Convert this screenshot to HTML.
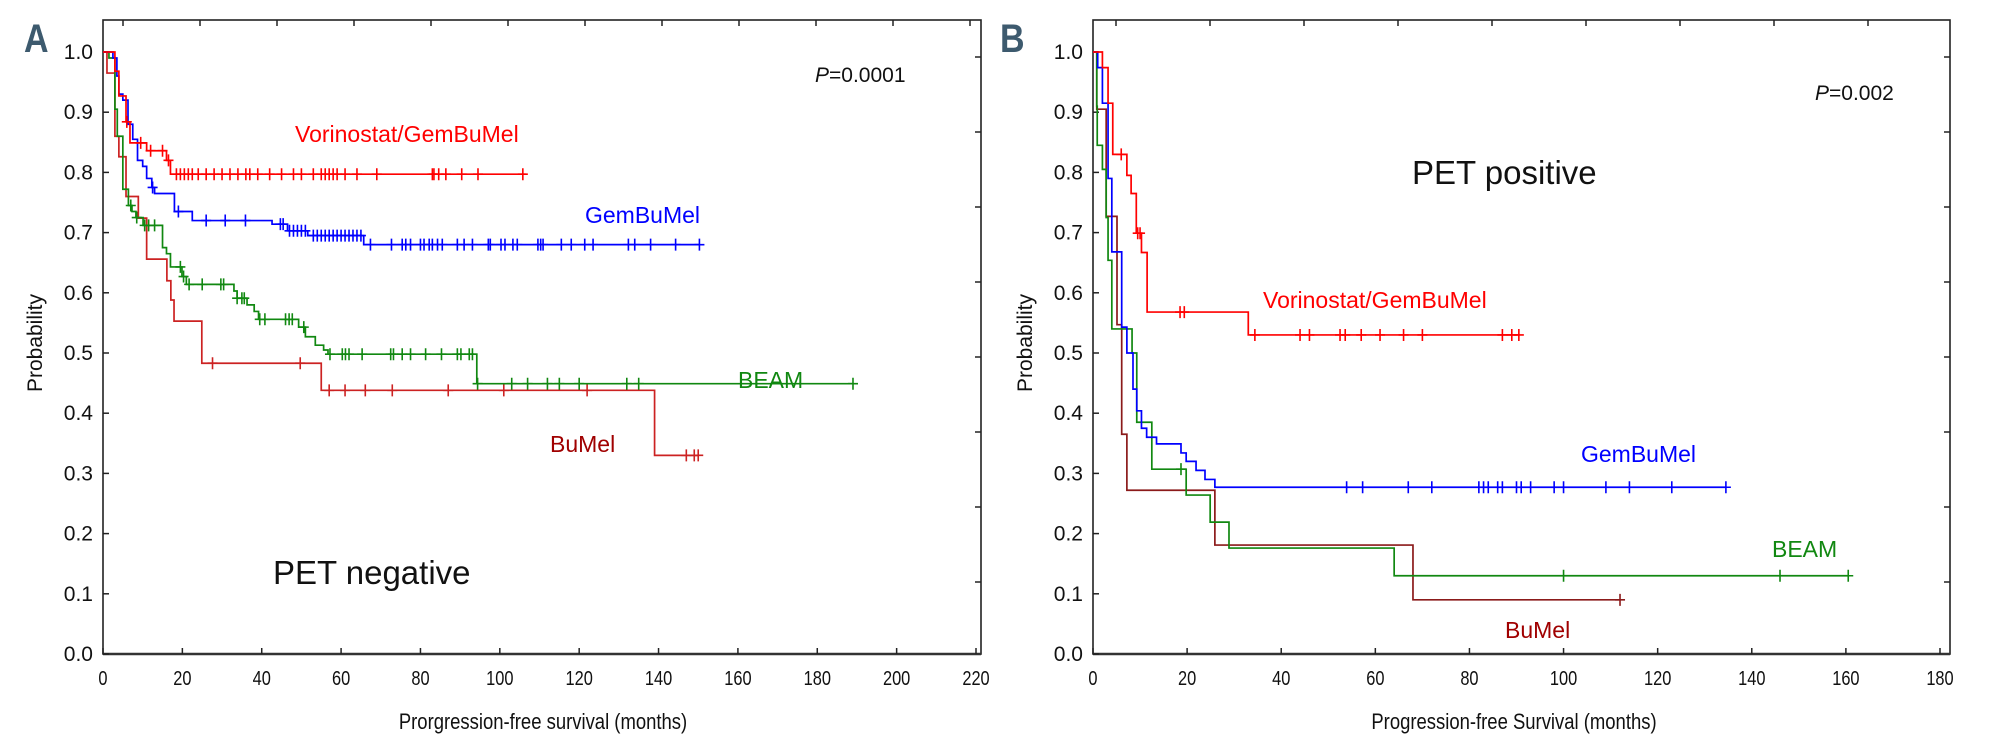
<!DOCTYPE html>
<html><head><meta charset="utf-8">
<style>
html,body{margin:0;padding:0;background:#fff;}
svg{display:block;font-family:"Liberation Sans",Arial,sans-serif;}
</style></head>
<body>
<svg id="chart" width="1995" height="751" viewBox="0 0 1995 751" xmlns="http://www.w3.org/2000/svg"></svg>
<script>
// ---------- Panel A data (PET negative) ----------
const aVorT = [0,3,4,5.8,6.8,11,16,17,106.5];
const aVorS = [1.0,0.968,0.927,0.884,0.849,0.836,0.82,0.797,0.797];
const aVorC = [6,9.5,12,15,16.5,18.5,19.5,20.5,21.5,22.5,24,26,28,30,32,34,36,37,39,42,45,48,50,53,55,56,57,58,59,61,64,69,83,83.4,84.6,86.4,90.4,94.5,105.8];
const aGemT = [0,2.5,3.5,4,5,6.3,7.5,8.7,10,11,12.3,13,18,22.5,42.6,46.5,51.6,65.7,150.3];
const aGemS = [1.0,0.99,0.96,0.93,0.92,0.88,0.855,0.82,0.81,0.79,0.775,0.765,0.735,0.72,0.714,0.703,0.695,0.68,0.68];
const aGemC = [12.5,19,26,30.8,35.9,44.7,45.4,47,48,49,50,51,53,54,55,56,57,58,59,60,61,62,63,64,65,67.4,72.7,75.4,76.3,77.5,80,80.9,82.2,83,84.3,85.5,89.3,91,93.1,97.1,97.6,100.3,101.3,103.3,104.4,109.6,110.3,110.9,115.5,118,121.4,123.5,132.4,134,138,144.3,150.3];
const aBeaT = [0,1.5,3,3.6,5,6.4,7.3,8.3,10.1,15,16,17,19.9,21,33,33.8,36.3,38.1,39.2,49.3,51,53.5,55.6,56.7,94.2,189];
const aBeaS = [1.0,0.99,0.905,0.86,0.772,0.745,0.735,0.725,0.712,0.675,0.665,0.643,0.627,0.614,0.603,0.591,0.58,0.569,0.556,0.543,0.527,0.513,0.505,0.498,0.449,0.449];
const aBeaC = [7,8.5,10.5,11.5,13,19.5,20.3,21.7,25,29.7,30.4,33.8,35,35.6,39.5,40.8,46,46.9,47.7,50.6,57.2,60.3,61.1,62,65.3,72.5,73.2,75.4,77.5,81.3,85.3,89.3,90.2,92.3,93.1,94.4,103,107,112,115,120,132,135,189];
const aBuT = [0,1,3,4,5.8,8.9,11,16.1,17.1,17.9,24.9,55,139,150];
const aBuS = [1.0,0.965,0.86,0.826,0.76,0.724,0.656,0.62,0.588,0.553,0.483,0.438,0.33,0.33];
const aBuC = [27.6,49.7,57,61,66.1,72.9,87,101,122,147,149,150];
// ---------- Panel B data (PET positive) ----------
const bVorT = [0,2,3.2,4.2,7.2,8.1,9.2,10.3,11.5,33,90.5];
const bVorS = [1.0,0.974,0.915,0.83,0.795,0.765,0.699,0.667,0.568,0.53,0.53];
const bVorC = [6,9.5,10,18.5,19.4,34.4,44,46,52.5,53.6,57,61,66,70,87,89,90.5];
const bGemT = [0,1,2,3.2,4,6.1,7.2,8.5,9.3,10.3,11.4,13.5,18.7,19.8,21.9,23.8,25.9,134.5];
const bGemS = [1.0,0.974,0.915,0.79,0.668,0.543,0.5,0.44,0.404,0.375,0.36,0.349,0.334,0.32,0.305,0.29,0.277,0.277];
const bGemC = [53.9,57.3,67,72,82,83,84,86,87,90,91,93,98,100,109,114,123,134.5];
const bBeaT = [0,0.8,0.9,2,2.8,3.2,4,8.3,9.3,12.5,19.8,24.9,28.9,64,160.5];
const bBeaS = [1.0,0.91,0.845,0.805,0.725,0.654,0.54,0.5,0.385,0.307,0.264,0.219,0.176,0.13,0.13];
const bBeaC = [18.7,100,146,160.5];
const bBuT = [0,0.8,2.8,5.1,6.1,7.2,25.9,68,112];
const bBuS = [1.0,0.905,0.727,0.547,0.365,0.272,0.181,0.09,0.09];
const bBuC = [112];
// ---------- Axis ticks ----------
const aXTicks = [0,20,40,60,80,100,120,140,160,180,200,220];
const bXTicks = [0,20,40,60,80,100,120,140,160,180];
const yTicks = [0.0,0.1,0.2,0.3,0.4,0.5,0.6,0.7,0.8,0.9,1.0];

const NS='http://www.w3.org/2000/svg';
const svg=document.getElementById('chart');
function mk(tag,attrs,parent){const e=document.createElementNS(NS,tag);for(const k in attrs)e.setAttribute(k,attrs[k]);(parent||svg).appendChild(e);return e;}

function panel(cfg){
  const g=mk('g',{});
  
  
  const X=t=>cfg.x0+(t/cfg.xmax)*(cfg.x1-cfg.x0);
  const Y=p=>cfg.y0-p*(cfg.y0-cfg.y1);
  const fr=mk('rect',{x:cfg.x0,y:cfg.top,width:cfg.fr-cfg.x0,height:cfg.y0-cfg.top,fill:'none',stroke:'#222','stroke-width':1.6},g);
  
  
  mk('line',{x1:cfg.x0,y1:cfg.y0,x2:cfg.fr,y2:cfg.y0,stroke:'#333','stroke-width':2.4},g);
  for(let x=cfg.topTick0;x<cfg.fr;x+=cfg.topTickStep) mk('line',{x1:x,y1:cfg.top,x2:x,y2:cfg.top+6,stroke:'#222','stroke-width':1.5},g);
  for(let y=57;y<cfg.y0;y+=75) mk('line',{x1:cfg.fr,y1:y,x2:cfg.fr-6,y2:y,stroke:'#222','stroke-width':1.5},g);
  cfg.xTicks.forEach(t=>{
    mk('line',{x1:X(t),y1:cfg.y0,x2:X(t),y2:cfg.y0-6,stroke:'#222','stroke-width':1.5},g);
    const tx=mk('text',{x:X(t),y:cfg.y0+31,'font-size':20,'text-anchor':'middle',fill:'#111',transform:`translate(${X(t)},0) scale(0.82,1) translate(${-X(t)},0)`},g);
    tx.textContent=t;
    
    
  });
  yTicks.forEach(p=>{
    mk('line',{x1:cfg.x0,y1:Y(p),x2:cfg.x0+6,y2:Y(p),stroke:'#222','stroke-width':1.5},g);
    const tx=mk('text',{x:cfg.x0-10,y:Y(p)+7,'font-size':21,'text-anchor':'end',fill:'#111'},g);
    tx.textContent=p.toFixed(1);
    
    
  });
  cfg.series.forEach(s=>{
    let d='M'+X(s.t[0])+','+Y(s.s[0]);
    for(let i=1;i<s.t.length;i++){d+=' H'+X(s.t[i])+' V'+Y(s.s[i]);}
    const pth=mk('path',{d:d,fill:'none',stroke:s.color,'stroke-width':1.7},g);
    
    
    const stepAt=t=>{let v=s.s[0];for(let i=0;i<s.t.length;i++){if(s.t[i]<=t)v=s.s[i];}return v;};
    s.c.forEach(t=>{
      const cx=X(t),cy=Y(stepAt(t));
      const cm=mk('path',{d:`M${cx-5},${cy} H${cx+5} M${cx},${cy-6} V${cy+6}`,stroke:s.color,'stroke-width':1.6,fill:'none'},g);
      
      
    });
  });
  return g;
}

panel({name:'panel-a-pet-negative',x0:103,x1:976,fr:981,xmax:220,y0:654,y1:52,top:20,topTick0:123,topTickStep:77,xTicks:aXTicks,
  series:[
    {name:'bumel',t:aBuT,s:aBuS,c:aBuC,color:'#cc2222'},
    {name:'beam',t:aBeaT,s:aBeaS,c:aBeaC,color:'#118811'},
    {name:'gembumel',t:aGemT,s:aGemS,c:aGemC,color:'#0000ff'},
    {name:'vorinostat-gembumel',t:aVorT,s:aVorS,c:aVorC,color:'#ff0000'}]});
panel({name:'panel-b-pet-positive',x0:1093,x1:1940,fr:1950,xmax:180,y0:654,y1:52,top:20,topTick0:1116,topTickStep:94,xTicks:bXTicks,
  series:[
    {name:'bumel',t:bBuT,s:bBuS,c:bBuC,color:'#8b1a1a'},
    {name:'beam',t:bBeaT,s:bBeaS,c:bBeaC,color:'#118811'},
    {name:'gembumel',t:bGemT,s:bGemS,c:bGemC,color:'#0000ff'},
    {name:'vorinostat-gembumel',t:bVorT,s:bVorS,c:bVorC,color:'#ff0000'}]});

function txt(str,attrs,name){const t=mk('text',attrs);t.textContent=str;return t;}
txt('A',{x:24,y:52,'font-size':40,'font-weight':'bold',fill:'#3d5a6e',transform:'translate(24,0) scale(0.85,1) translate(-24,0)'},'panel-letter-a');
txt('B',{x:1000,y:52,'font-size':40,'font-weight':'bold',fill:'#3d5a6e',transform:'translate(1000,0) scale(0.85,1) translate(-1000,0)'},'panel-letter-b');
txt('Probability',{x:0,y:0,'font-size':21,'text-anchor':'middle',fill:'#111',transform:'translate(42,343) rotate(-90)'},'y-axis-title-a');
txt('Probability',{x:0,y:0,'font-size':21,'text-anchor':'middle',fill:'#111',transform:'translate(1032,343) rotate(-90)'},'y-axis-title-b');
txt('Prorgression-free survival (months)',{x:543,y:729,'font-size':22,'text-anchor':'middle',fill:'#111',transform:'translate(543,0) scale(0.84,1) translate(-543,0)'},'x-axis-title-a');
txt('Progression-free Survival (months)',{x:1514,y:729,'font-size':22,'text-anchor':'middle',fill:'#111',transform:'translate(1514,0) scale(0.84,1) translate(-1514,0)'},'x-axis-title-b');
const p1=txt('',{x:815,y:82,'font-size':21,fill:'#111'},'p-value-a');
p1.innerHTML='<tspan font-style="italic">P</tspan>=0.0001';
const p2=txt('',{x:1815,y:100,'font-size':21,fill:'#111'},'p-value-b');
p2.innerHTML='<tspan font-style="italic">P</tspan>=0.002';
txt('PET negative',{x:273,y:584,'font-size':33,fill:'#111'},'panel-title-a');
txt('PET positive',{x:1412,y:184,'font-size':33,fill:'#111'},'panel-title-b');
txt('Vorinostat/GemBuMel',{x:295,y:142,'font-size':23,fill:'#ff0000'},'label-vorinostat-a');
txt('GemBuMel',{x:585,y:223,'font-size':23,fill:'#0000ff'},'label-gembumel-a');
txt('BEAM',{x:738,y:388,'font-size':23,fill:'#118811'},'label-beam-a');
txt('BuMel',{x:550,y:452,'font-size':23,fill:'#a00000'},'label-bumel-a');
txt('Vorinostat/GemBuMel',{x:1263,y:308,'font-size':23,fill:'#ff0000'},'label-vorinostat-b');
txt('GemBuMel',{x:1581,y:462,'font-size':23,fill:'#0000ff'},'label-gembumel-b');
txt('BEAM',{x:1772,y:557,'font-size':23,fill:'#118811'},'label-beam-b');
txt('BuMel',{x:1505,y:638,'font-size':23,fill:'#a00000'},'label-bumel-b');
</script>
</body></html>
